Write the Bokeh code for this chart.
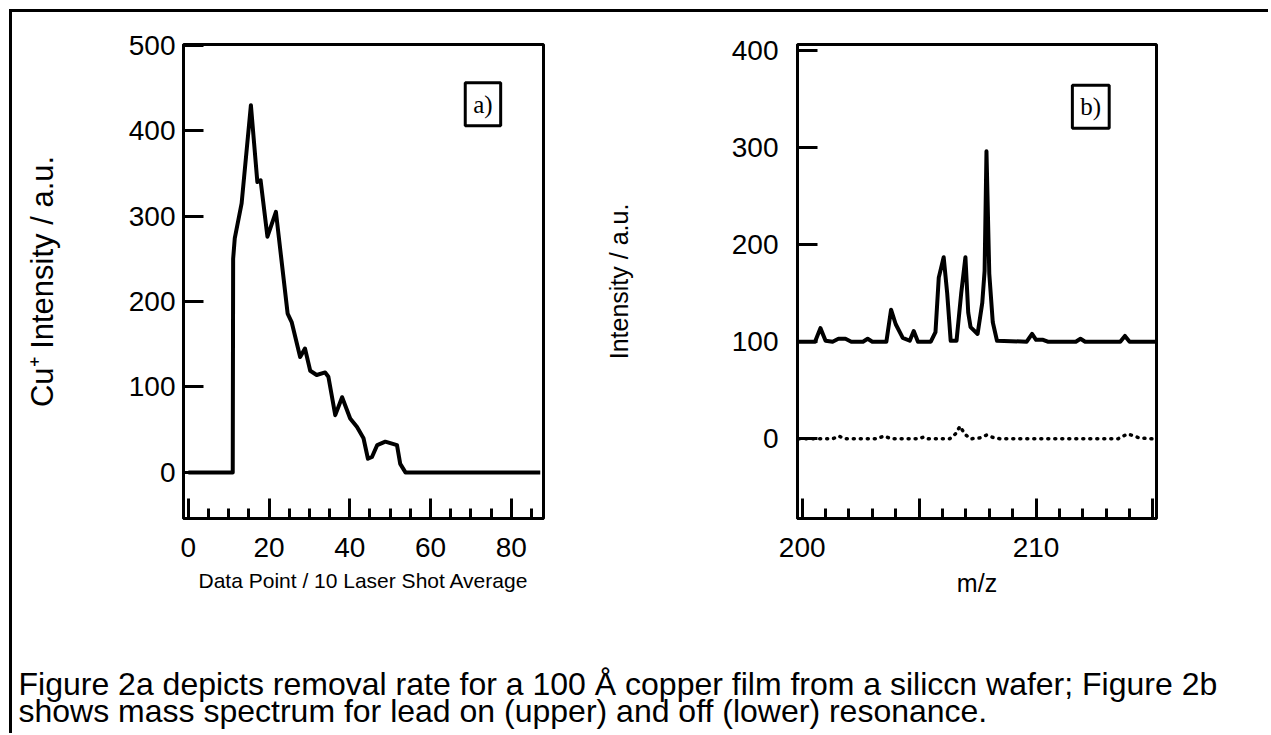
from bokeh.plotting import figure
from bokeh.models import Range1d, FixedTicker, Label
from bokeh.layouts import column, row
from bokeh.embed import file_html
from bokeh.resources import INLINE

# ---- data: panel a) removal rate ----
pt_a = [0, 11.0, 11.1, 11.5, 13.2, 15.5, 16.3, 17.1, 17.9, 19.6, 21.7, 24.6, 25.6, 27.7,
        28.9, 30.2, 31.8, 33.9, 34.7, 36.4, 38.1, 40.1, 41.8, 43.4, 44.5, 45.5, 46.8,
        48.8, 51.7, 52.5, 53.8, 87.2]
cu_a = [0, 0, 250, 274, 315, 430, 385, 340, 342, 276, 305, 186, 176, 135,
        145, 119, 114, 117, 112, 67, 88, 63, 53, 40, 16, 18, 32,
        36, 32, 10, 0, 0]

# ---- data: panel b) mass spectrum, on resonance (upper) ----
mz_on = [199.85, 200.55, 200.78, 201.0, 201.3, 201.55, 201.85, 202.1, 202.6, 202.8, 203.0,
         203.6, 203.8, 204.0, 204.3, 204.6, 204.77, 204.95, 205.5, 205.7, 205.84, 206.05,
         206.2, 206.35, 206.6, 206.8, 206.98, 207.1, 207.2, 207.5, 207.7, 207.8, 207.88,
         208.0, 208.15, 208.33, 209.6, 209.83, 210.0, 210.3, 210.5, 211.7, 211.9, 212.1,
         213.6, 213.8, 214.0, 215.1]
int_on = [100, 100, 114, 101, 100, 103, 103, 100, 100, 103, 100,
          100, 133, 118, 104, 101, 111, 100, 100, 110, 166, 187,
          150, 101, 101, 150, 187, 130, 115, 108, 140, 173, 296,
          170, 120, 101, 100, 108, 102, 102, 100, 100, 103, 100,
          100, 106, 100, 100]

# ---- off resonance (lower, dotted) ----
mz_off = [199.85, 200.3, 201.3, 201.57, 201.8, 203.2, 203.5, 203.8, 205.0, 205.2, 205.4,
          206.3, 206.55, 206.75, 206.95, 207.2, 207.6, 207.9, 208.2, 208.5, 213.5, 213.9,
          214.2, 214.4, 215.0]
int_off = [0, 0, 0, 3, 0, 0, 3, 0, 0, 2, 0,
           0, 5, 13, 5, 0, 1, 4, 1, 0, 0, 5,
           3, 1, 0]

# ---- ticks and texts ----
a_xticks = [0, 20, 40, 60, 80]
a_xminor = [5, 10, 15, 25, 30, 35, 45, 50, 55, 65, 70, 75, 85]
a_yticks = [0, 100, 200, 300, 400, 500]
b_xticks = [200, 205, 210, 215]
b_xminor = [201, 202, 203, 204, 206, 207, 208, 209, 211, 212, 213, 214]
b_yticks = [0, 100, 200, 300, 400]

a_xlabel = "Data Point / 10 Laser Shot Average"
a_ylabel = "Cu\u207a Intensity / a.u."
b_xlabel = "m/z"
b_ylabel = "Intensity / a.u."
caption1 = "Figure 2a depicts removal rate for a 100 \u00c5 copper film from a siliccn wafer; Figure 2b"
caption2 = "shows mass spectrum for lead on (upper) and off (lower) resonance."

FONT = "Liberation Sans"
TICK_FS = "28px"


def style(p, xticks, xminor, yticks, xlab_fs, ylab_fs, ytick_standoff, ylab_standoff):
    p.outline_line_color = "black"
    p.outline_line_width = 3
    p.outline_line_alpha = 1
    p.grid.visible = False
    for ax in (p.xaxis, p.yaxis):
        ax.axis_line_width = 3
        ax.major_tick_line_width = 3
        ax.minor_tick_line_width = 3
        ax.major_tick_in = 20
        ax.major_tick_out = 0
        ax.minor_tick_in = 10
        ax.minor_tick_out = 0
        ax.major_label_text_font = FONT
        ax.major_label_text_font_size = TICK_FS
        ax.major_label_text_color = "black"
        ax.axis_label_text_font = FONT
        ax.axis_label_text_font_style = "normal"
        ax.axis_label_text_color = "black"
    p.xaxis.axis_label_text_font_size = xlab_fs
    p.yaxis.axis_label_text_font_size = ylab_fs
    p.xaxis.major_label_standoff = 19
    p.yaxis.major_label_standoff = ytick_standoff
    p.xaxis.ticker = FixedTicker(ticks=xticks, minor_ticks=xminor)
    p.yaxis.ticker = FixedTicker(ticks=yticks, minor_ticks=[])
    p.xaxis.axis_label_standoff = 9
    p.yaxis.axis_label_standoff = ylab_standoff
    p.background_fill_color = "white"
    p.border_fill_color = "white"


pa = figure(width=572, height=608, output_backend="svg", toolbar_location=None,
            x_range=Range1d(-1.2, 88), y_range=Range1d(-54, 501),
            min_border_left=171, min_border_right=41, min_border_top=32, min_border_bottom=102,
            x_axis_label=a_xlabel, y_axis_label=a_ylabel)
style(pa, a_xticks, a_xminor, a_yticks, "21px", "31px", 8, 66)
pa.line(pt_a, cu_a, line_color="black", line_width=4, line_join="round")
pa.add_layout(Label(x=73, y=431, text="a)", text_font="Liberation Serif", text_font_size="25px",
                    text_align="center", text_baseline="middle", border_line_color="black",
                    border_line_width=3, padding=8, text_color="black"))

pb = figure(width=632, height=608, output_backend="svg", toolbar_location=None,
            x_range=Range1d(199.8, 215.15), y_range=Range1d(-82, 406),
            min_border_left=213, min_border_right=60, min_border_top=32, min_border_bottom=102,
            x_axis_label=b_xlabel, y_axis_label=b_ylabel)
style(pb, b_xticks, b_xminor, b_yticks, "25px", "25px", 19, 96)
pb.xaxis.major_label_overrides = {205: "", 215: ""}
pb.line(mz_on, int_on, line_color="black", line_width=4, line_join="round")
pb.line(mz_off, int_off, line_color="black", line_width=3.5, line_dash="1 6", line_cap="round")
pb.add_layout(Label(x=212.34, y=342, text="b)", text_font="Liberation Serif", text_font_size="25px",
                    text_align="center", text_baseline="middle", border_line_color="black",
                    border_line_width=3, padding=8, text_color="black"))

cap = figure(width=1256, height=113, output_backend="svg", toolbar_location=None,
             x_range=Range1d(0, 1256), y_range=Range1d(0, 113),
             x_axis_type=None, y_axis_type=None, min_border=0)
cap.outline_line_color = None
cap.grid.visible = False
cap.background_fill_color = "white"
cap.border_fill_color = "white"
cap.add_layout(Label(x=6, y=50, text=caption1, text_font=FONT, text_font_size="32px",
                     text_baseline="alphabetic", text_color="black"))
cap.add_layout(Label(x=6, y=23, text=caption2, text_font=FONT, text_font_size="32px",
                     text_baseline="alphabetic", text_color="black"))

p = column(row(pa, pb), cap,
           styles={"margin-left": "9px", "margin-top": "9px",
                   "border-top": "3px solid black", "border-left": "3px solid black"})

open("out.html", "w").write(file_html(p, INLINE))
